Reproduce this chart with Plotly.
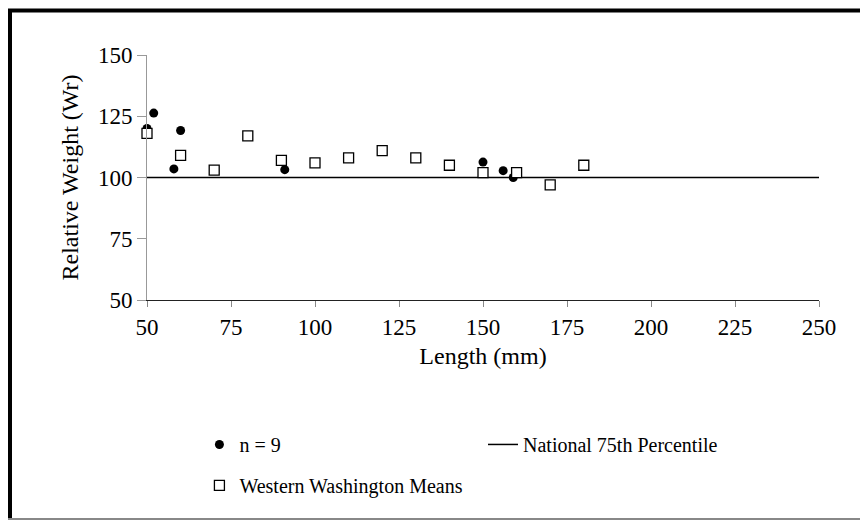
import plotly.graph_objects as go

# Data
circ_x = [50, 52, 58, 60, 91, 150, 156, 159]
circ_y = [120, 126.3, 103.5, 119.2, 103.2, 106.3, 102.8, 100]

sq_x = [50, 60, 70, 80, 90, 100, 110, 120, 130, 140, 150, 160, 170, 180]
sq_y = [118, 109, 103, 117, 107, 106, 108, 111, 108, 105, 102, 102, 97, 105]

ref_x = [50, 252]
ref_y = [100, 100]

x_ticks = [50, 75, 100, 125, 150, 175, 200, 225, 250]
y_ticks = [50, 75, 100, 125, 150]

FONT = "Liberation Serif, serif"
INK = "#000000"

fig = go.Figure()

fig.add_trace(go.Scatter(
    x=ref_x, y=ref_y, mode="lines", name="National 75th Percentile",
    line=dict(color="black", width=1.5), legend="legend2",
))
fig.add_trace(go.Scatter(
    x=circ_x, y=circ_y, mode="markers", name="n = 9",
    marker=dict(size=9, color="black"), cliponaxis=False, legendgroup="a",
))
fig.add_trace(go.Scatter(
    x=sq_x, y=sq_y, mode="markers", name="Western Washington Means",
    marker=dict(symbol="square", size=10, color="white",
                line=dict(color="black", width=1.3)),
    cliponaxis=False, legendgroup="b",
))

fig.update_xaxes(
    range=[50, 250], tickvals=x_ticks,
    showgrid=False, zeroline=False, showline=True, linecolor="#222",
    ticks="outside", ticklen=6, tickcolor="#888",
    tickfont=dict(family=FONT, size=23, color=INK),
    title=dict(text="Length (mm)", font=dict(family=FONT, size=24, color=INK), standoff=8),
)
fig.update_yaxes(
    range=[50, 150], tickvals=y_ticks,
    showgrid=False, zeroline=False, showline=True, linecolor="#999",
    ticks="outside", ticklen=9, tickcolor="#999",
    tickfont=dict(family=FONT, size=23, color=INK),
    title=dict(text="Relative Weight (Wr)", font=dict(family=FONT, size=24, color=INK), standoff=12),
)

fig.update_layout(
    width=860, height=520,
    margin=dict(l=147, r=41, t=55, b=220),
    plot_bgcolor="white",
    legend=dict(x=0.078, y=-0.51, xanchor="left", yanchor="top",
                font=dict(family=FONT, size=20, color=INK), tracegroupgap=12),
    legend2=dict(x=0.50, y=-0.51, xanchor="left", yanchor="top",
                 font=dict(family=FONT, size=20, color=INK)),
    shapes=[
        dict(type="line", xref="paper", yref="paper",
             x0=(10 - 147) / 672, x1=(10 - 147) / 672, y0=(300 - 10) / 245, y1=(300 - 520) / 245,
             line=dict(color="black", width=4)),
        dict(type="line", xref="paper", yref="paper",
             x0=(8 - 147) / 672, x1=(862 - 147) / 672, y0=(300 - 10.5) / 245, y1=(300 - 10.5) / 245,
             line=dict(color="black", width=4)),
        dict(type="line", xref="paper", yref="paper",
             x0=(8 - 147) / 672, x1=(862 - 147) / 672, y0=(300 - 519) / 245, y1=(300 - 519) / 245,
             line=dict(color="#888", width=2)),
    ],
)

fig.write_html("out.html")
